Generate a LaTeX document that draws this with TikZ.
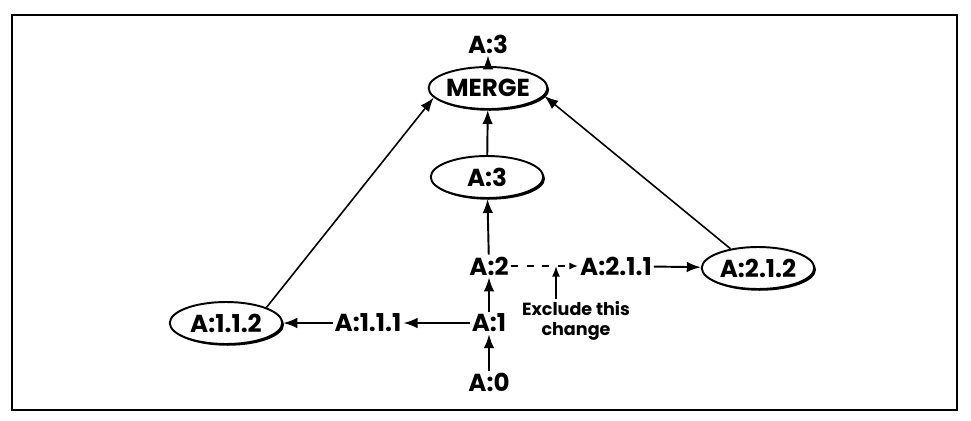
\documentclass[tikz,border=0pt]{standalone}
\usepackage{fontspec}
\setmainfont{Poppins}
\usepackage{tikz}
\usetikzlibrary{shapes.geometric,arrows.meta,shadows}

\tikzset{
  verbox/.style={ellipse, draw, line width=1.1pt, fill=white, minimum width=2.25cm, minimum height=0.84cm, inner sep=0pt,
    drop shadow={shadow xshift=1pt, shadow yshift=-1pt, fill=black, opacity=1}},
  verlabel/.style={inner sep=1pt},
  arr/.style={line width=1.1pt, -{Latex[length=8pt,width=6pt]}},
}

\begin{document}
\begin{tikzpicture}[x=0.02cm, y=-0.02cm, font=\fontsize{14}{16}\selectfont\bfseries]
  \useasboundingbox (0,0) rectangle (971,420);
  % Outer frame
  \draw[line width=1.3pt] (12,15) rectangle (957,410);

  % Main line A:0 up to MERGE
  \node[verlabel] (a0) at (489,382) {A:0};
  \node[verlabel] (a1) at (489,323) {A:1};
  \node[verlabel] (a2) at (489,266) {A:2};
  \node[verbox] (a3e) at (487,177) {A:3};
  \node[verbox] (merge) at (488,88) {MERGE};
  \node[verlabel] (out) at (488,44) {A:3};

  % Branches
  \node[verlabel] (a111) at (368,323) {A:1.1.1};
  \node[verbox] (a112) at (226,323) {A:1.1.2};
  \node[verlabel] (a211) at (616,266) {A:2.1.1};
  \node[verbox] (a212) at (758,268) {A:2.1.2};

  % Note on the excluded change
  \node[align=center, font=\fontsize{10}{11.5}\selectfont\bfseries, inner sep=1pt] (excl) at (576,321) {Exclude this\\change};
  \coordinate (cut) at (556,266);

  % Connectors
  \draw[arr] (a0) -- (a1);
  \draw[arr] (a1) -- (a2);
  \draw[arr] (a2) -- (a3e);
  \draw[arr] (a3e) -- (merge);
  \draw[arr] (merge) -- (out);
  \draw[arr] (a1) -- (a111);
  \draw[arr] (a111) -- (a112);
  \draw[arr] (a211) -- (a212);
  \draw[line width=1.1pt, dashed, dash pattern=on 4pt off 5pt, -{Latex[length=5pt,width=4pt]}] (a2) -- (a211);
  \draw[line width=0.9pt, -{Latex[length=6pt,width=4.5pt]}] (excl.north -| cut) -- (cut);
  \draw[arr, line width=0.9pt] (a112.north east) -- (merge.190);
  \draw[arr, line width=0.9pt] (a212.145) -- (merge.352);
\end{tikzpicture}
\end{document}
